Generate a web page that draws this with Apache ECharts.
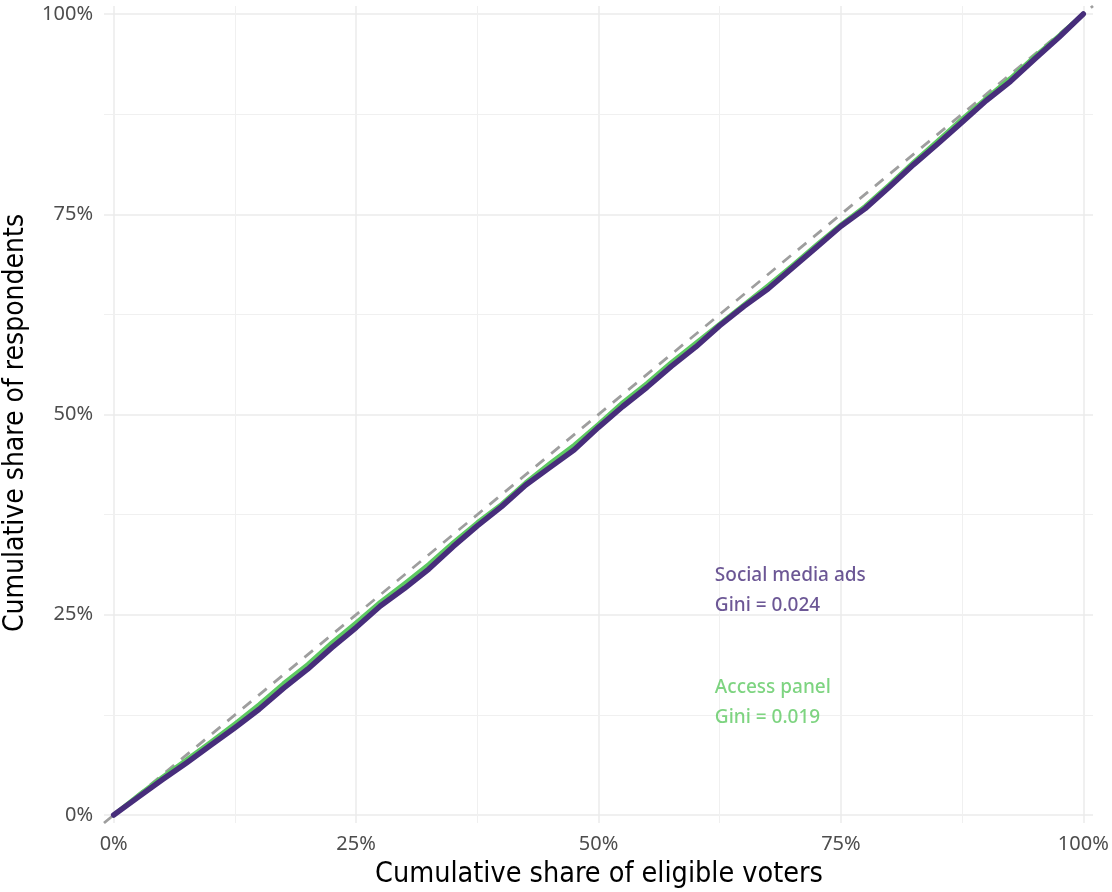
<!DOCTYPE html>
<html>
<head>
<meta charset="utf-8">
<script src="https://cdn.jsdelivr.net/npm/echarts@6/dist/echarts.min.js"></script>
<style>
  html, body { margin: 0; padding: 0; background: #ffffff; }
  #chart { width: 1112px; height: 892px; }
</style>
</head>
<body>
<div id="chart"></div>
<script>
// Cumulative share of eligible voters (x, %)
const voterShare = [0, 2.5, 5, 7.5, 10, 12.5, 15, 17.5, 20, 22.5, 25, 27.5, 30, 32.5, 35, 37.5, 40,
  42.5, 45, 47.5, 50, 52.5, 55, 57.5, 60, 62.5, 65, 67.5, 70, 72.5, 75, 77.5, 80, 82.5, 85, 87.5,
  90, 92.5, 95, 97.5, 100];
// Cumulative share of respondents (y, %) for each recruitment mode
const socialMediaAds = [0, 2.2, 4.4, 6.5, 8.7, 10.9, 13.2, 15.8, 18.2, 20.9, 23.4, 26.1, 28.3, 30.7,
  33.5, 36.1, 38.5, 41.2, 43.4, 45.6, 48.4, 51.0, 53.4, 56.0, 58.4, 61.1, 63.5, 65.7, 68.3, 70.9,
  73.5, 75.7, 78.4, 81.2, 83.8, 86.5, 89.2, 91.6, 94.4, 97.1, 100];
const accessPanel = [0, 2.4, 4.7, 6.9, 9.1, 11.4, 13.8, 16.4, 18.8, 21.5, 24.0, 26.6, 28.9, 31.3,
  34.0, 36.5, 38.8, 41.5, 43.9, 46.2, 48.8, 51.5, 53.9, 56.5, 58.9, 61.3, 63.7, 66.1, 68.6, 71.2,
  73.7, 76.0, 78.7, 81.5, 84.2, 86.9, 89.5, 92.0, 94.7, 97.3, 100];
// Equality line endpoints and axis breaks (%)
const equalityLine = [-1, 101];
const majorBreaks = [0, 25, 50, 75, 100];
const minorBreaks = [12.5, 37.5, 62.5, 87.5];
// Annotation texts with anchor positions (%)
const seriesNames = ['Social media ads', 'Access panel'];
const giniLabels = ['Gini = 0.024', 'Gini = 0.019'];
const labelAnchors = [[62, 28], [62, 14]];

const PURPLE = '#472d7b';
const GREEN = '#5ec962';
const TEXT_FONT = '"Noto Sans", "Open Sans", sans-serif';
const TITLE_FONT = '"Liberation Sans Narrow", "DejaVu Sans Condensed", "Open Sans", sans-serif';

const pairs = (xs, ys) => xs.map((x, i) => [x, ys[i]]);

const gridLines = [];
majorBreaks.forEach(v => {
  gridLines.push({ xAxis: v, lineStyle: { color: '#ebebeb', width: 1.5, type: 'solid' } });
  gridLines.push({ yAxis: v, lineStyle: { color: '#ebebeb', width: 1.5, type: 'solid' } });
});
minorBreaks.forEach(v => {
  gridLines.push({ xAxis: v, lineStyle: { color: '#f0f0f0', width: 1, type: 'solid' } });
  gridLines.push({ yAxis: v, lineStyle: { color: '#f0f0f0', width: 1, type: 'solid' } });
});

const chart = echarts.init(document.getElementById('chart'), null, { renderer: 'canvas' });

chart.setOption({
  animation: false,
  backgroundColor: '#ffffff',
  grid: { left: 104, right: 19, top: 6, bottom: 69, containLabel: false },
  xAxis: {
    type: 'value', min: -1, max: 101,
    axisLine: { show: false }, axisTick: { show: false }, splitLine: { show: false },
    axisLabel: {
      customValues: majorBreaks,
      formatter: v => Math.round(v) + '%',
      color: '#4d4d4d', fontSize: 20, fontFamily: TEXT_FONT, margin: 11
    }
  },
  yAxis: {
    type: 'value', min: -1, max: 101,
    axisLine: { show: false }, axisTick: { show: false }, splitLine: { show: false },
    axisLabel: {
      customValues: majorBreaks,
      formatter: v => Math.round(v) + '%',
      color: '#4d4d4d', fontSize: 20, fontFamily: TEXT_FONT, margin: 11
    }
  },
  series: [
    {
      type: 'line', data: [], silent: true, zlevel: 0, z: 1,
      markLine: { silent: true, symbol: ['none', 'none'], label: { show: false }, data: gridLines, animation: false }
    },
    {
      type: 'line', data: pairs(equalityLine, equalityLine), zlevel: 1, z: 2,
      showSymbol: false, silent: true,
      lineStyle: { color: '#9e9e9e', width: 2.8, type: [11, 9] }
    },
    {
      name: seriesNames[1], type: 'line', data: pairs(voterShare, accessPanel), zlevel: 1, z: 3,
      showSymbol: false, smooth: false,
      lineStyle: { color: GREEN, width: 4.5, cap: 'round', join: 'round' }
    },
    {
      name: seriesNames[0], type: 'line', data: pairs(voterShare, socialMediaAds), zlevel: 1, z: 4,
      showSymbol: false, smooth: false,
      lineStyle: { color: PURPLE, width: 5.5, cap: 'round', join: 'round' }
    },
    {
      type: 'scatter', zlevel: 1, z: 5, symbolSize: 0, silent: true,
      data: labelAnchors.map((p, i) => ({
        value: p,
        label: {
          show: true, position: [0, 0], align: 'left', verticalAlign: 'middle',
          formatter: seriesNames[i] + '\n' + giniLabels[i],
          color: i === 0 ? PURPLE : GREEN,
          fontSize: 19, fontWeight: 500, lineHeight: 30, fontFamily: TEXT_FONT
        }
      }))
    }
  ],
  graphic: [
    {
      type: 'text', x: 599, y: 875, zlevel: 1,
      style: { text: 'Cumulative share of eligible voters', fill: '#000000', font: '28.5px ' + TITLE_FONT,
               align: 'center', verticalAlign: 'middle' }
    },
    {
      type: 'text', x: 16, y: 423, rotation: Math.PI / 2, zlevel: 1,
      style: { text: 'Cumulative share of respondents', fill: '#000000', font: '28px ' + TITLE_FONT,
               align: 'center', verticalAlign: 'middle' }
    }
  ]
});
</script>
</body>
</html>
